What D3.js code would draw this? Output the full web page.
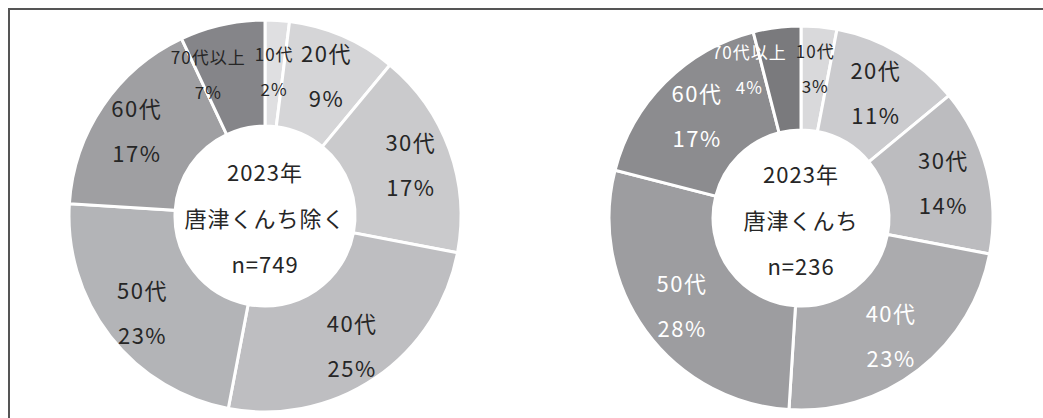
<!DOCTYPE html>
<html>
<head>
<meta charset="utf-8">
<script src="https://cdn.jsdelivr.net/npm/d3@7"></script>
<style>
  body { margin: 0; background: #fff; }
  svg { display: block; }
</style>
</head>
<body>
<div id="chart"></div>
<script>
// age groups
var ages = ["10代", "20代", "30代", "40代", "50代", "60代", "70代以上"];

// share (%) per age group
var valuesOther = [2, 9, 17, 25, 23, 17, 7];   // 唐津くんち除く
var valuesKunchi = [3, 11, 14, 23, 28, 17, 4]; // 唐津くんち

var titleOther = ["2023年", "唐津くんち除く", "n=749"];
var titleKunchi = ["2023年", "唐津くんち", "n=236"];

var colorsOther = ["#dfdfe1", "#d5d5d7", "#cacacc", "#bebec1", "#b3b4b7", "#9f9fa2", "#858589"];
var colorsKunchi = ["#d9d9db", "#cbcbce", "#bcbcbf", "#ababae", "#9d9da0", "#8c8c8f", "#7a7a7d"];
var textOther = ["#262626", "#262626", "#262626", "#262626", "#262626", "#262626", "#262626"];
var textKunchi = ["#262626", "#262626", "#262626", "#fff", "#fff", "#fff", "#fff"];

var W = 1043, H = 418;

var svg = d3.select("#chart")
    .append("svg")
    .attr("width", W)
    .attr("height", H)
    .style("font-family", "'Noto Sans CJK JP', 'Noto Sans', sans-serif");

// frame (only top and left edges are visible)
svg.append("path")
    .attr("d", "M9," + H + "V9H" + W)
    .attr("fill", "none")
    .attr("stroke", "#555")
    .attr("stroke-width", 2);

function drawDonut(cx, cy, rOut, rIn, rLabel, rSmall, values, colors, textCols, title) {
    var data = ages.map(function(a, i) {
        return { age: a, value: values[i], color: colors[i], text: textCols[i] };
    });

    var pie = d3.pie()
        .sort(null)
        .value(function(d) { return d.value; });

    var arc = d3.arc().innerRadius(rIn).outerRadius(rOut);
    var labelArc = d3.arc().innerRadius(rLabel).outerRadius(rLabel);
    var smallArc = d3.arc().innerRadius(rSmall).outerRadius(rSmall);

    var g = svg.append("g")
        .attr("transform", "translate(" + cx + "," + cy + ")");

    var arcs = pie(data);

    g.selectAll("path.slice")
        .data(arcs)
        .enter()
        .append("path")
        .attr("class", "slice")
        .attr("d", arc)
        .attr("fill", function(d) { return d.data.color; })
        .attr("stroke", "#fff")
        .attr("stroke-width", 3);

    function isSmall(d) { return d.data.value < 8; }

    var lab = g.selectAll("g.label")
        .data(arcs)
        .enter()
        .append("g")
        .attr("class", "label");

    lab.append("text")
        .attr("text-anchor", "middle")
        .attr("dominant-baseline", "central")
        .attr("y", function(d) { return isSmall(d) ? -17 : -22; })
        .attr("font-size", function(d) { return isSmall(d) ? "17px" : "22px"; })
        .attr("letter-spacing", function(d) { return isSmall(d) ? "1px" : "1.5px"; })
        .attr("fill", function(d) { return d.data.text; })
        .text(function(d) { return d.data.age; });

    lab.append("text")
        .attr("text-anchor", "middle")
        .attr("dominant-baseline", "central")
        .attr("y", function(d) { return isSmall(d) ? 18 : 23; })
        .attr("font-size", function(d) { return isSmall(d) ? "17px" : "22px"; })
        .attr("letter-spacing", function(d) { return isSmall(d) ? "1px" : "1.5px"; })
        .attr("fill", function(d) { return d.data.text; })
        .text(function(d) { return d.data.value + "%"; });

    // place labels at centroids, then push the last small label
    // left if it runs into the first one at the top
    var pos = arcs.map(function(d) {
        var c = isSmall(d) ? smallArc.centroid(d) : labelArc.centroid(d);
        return { x: c[0], y: c[1] };
    });
    var widths = [];
    lab.each(function() {
        var w = 0;
        d3.select(this).selectAll("text").each(function() {
            w = Math.max(w, this.getComputedTextLength());
        });
        widths.push(w);
    });
    var n = arcs.length;
    var firstLeft = pos[0].x - widths[0] / 2;
    var lastRight = pos[n - 1].x + widths[n - 1] / 2;
    var gap = 9;
    if (lastRight > firstLeft - gap) {
        pos[n - 1].x -= lastRight - (firstLeft - gap);
    }

    lab.attr("transform", function(d, i) {
        return "translate(" + pos[i].x + "," + pos[i].y + ")";
    });

    // centre text
    g.selectAll("text.title")
        .data(title)
        .enter()
        .append("text")
        .attr("class", "title")
        .attr("text-anchor", "middle")
        .attr("dominant-baseline", "central")
        .attr("y", function(d, i) { return 1 + (i - 1) * 46; })
        .attr("font-size", "22px")
        .attr("letter-spacing", "1px")
        .attr("fill", "#262626")
        .text(function(d) { return d; });
}

drawDonut(265, 216, 196, 90, 155, 146, valuesOther, colorsOther, textOther, titleOther);
drawDonut(801, 218, 192, 88, 147, 151, valuesKunchi, colorsKunchi, textKunchi, titleKunchi);
</script>
</body>
</html>
